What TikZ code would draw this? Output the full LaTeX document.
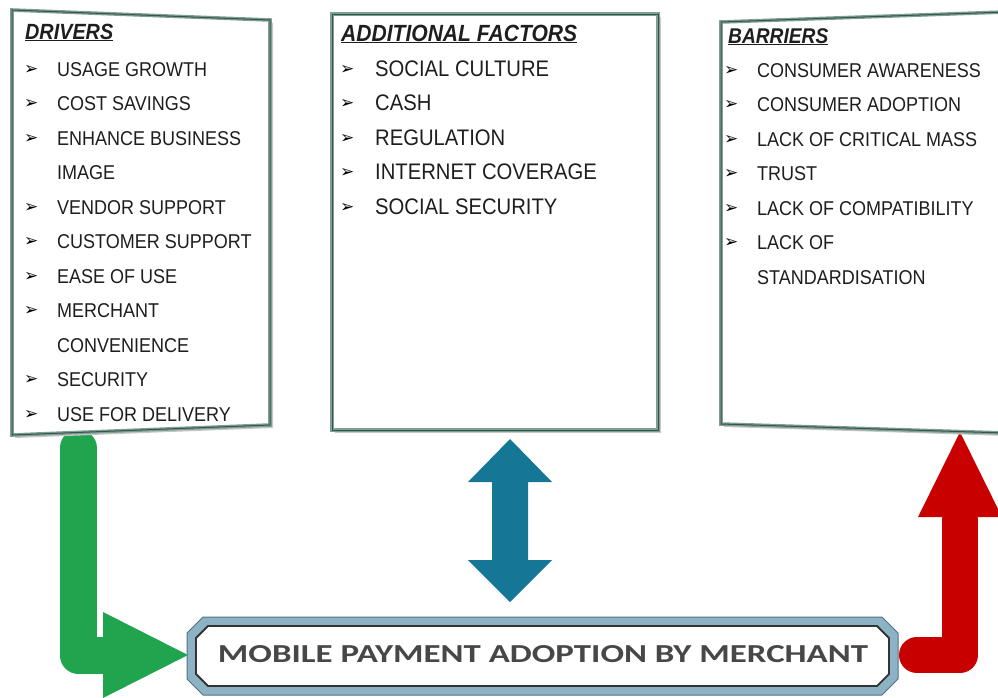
\documentclass[tikz,border=0pt]{standalone}
\usepackage{fontspec}
\setmainfont{Liberation Sans}
\newfontfamily\arialc[FakeStretch=0.9]{Liberation Sans}
\newfontfamily\dejavu{DejaVu Sans}
\newfontfamily\carl{Carlito}
\definecolor{frameC}{RGB}{125,160,150}
\definecolor{frameD}{RGB}{60,82,76}
\definecolor{bevelC}{RGB}{140,178,195}
\definecolor{bevelD}{RGB}{80,115,130}
\definecolor{greenA}{RGB}{32,164,78}
\definecolor{redA}{RGB}{200,0,0}
\definecolor{blueA}{RGB}{22,118,150}
\definecolor{txt}{RGB}{30,30,30}
\begin{document}
\begin{tikzpicture}[x=1pt,y=-1pt,
  boxfill/.style={fill=white},
  boxline/.style={draw=frameC, line width=3.6pt, line join=miter},
  boxcore/.style={draw=frameD, line width=1pt, line join=miter},
  boxshadow/.style={fill=black!22},
  bul/.style={anchor=base west, inner sep=0pt, font=\dejavu\fontsize{17}{18}\selectfont, text=black},
  itmL/.style={anchor=base west, inner sep=0pt, font=\arialc\fontsize{20}{24}\selectfont, text=txt},
  itmM/.style={anchor=base west, inner sep=0pt, font=\arialc\fontsize{22.5}{26}\selectfont, text=txt},
  itmR/.style={anchor=base west, inner sep=0pt, font=\arialc\fontsize{20}{24}\selectfont, text=txt},
  ttl/.style={anchor=base west, inner sep=0pt, font=\arialc\bfseries\itshape\fontsize{22}{26}\selectfont, text=txt}
]
\useasboundingbox (0,0) rectangle (998,697);
\clip (0,0) rectangle (998,697);

% ---------- arrows ----------
\coordinate (gTop) at (78,448);
\coordinate (gBend) at (78,655);
\coordinate (gEnd) at (106,655);
\draw[line width=37pt, draw=greenA, line cap=round, line join=round] (gTop) -- (gBend) -- (gEnd);
\fill[greenA] (103,612) -- (188,655) -- (103,698) -- cycle;

\coordinate (rStart) at (917,655);
\coordinate (rBend) at (960,655);
\coordinate (rTop) at (960,520);
\draw[line width=36pt, draw=redA, line cap=round, line join=round] (rStart) -- (rBend) -- (rTop);
\fill[redA] (918,517) -- (960,432) -- (1002,517) -- cycle;

\fill[blueA] (510,439) -- (552,482) -- (528,482) -- (528,560) -- (552,560) -- (510,602)
  -- (468,560) -- (492,560) -- (492,482) -- (468,482) -- cycle;

% ---------- left box (drivers) ----------
\fill[boxshadow] (15,13) -- (273,23) -- (273,428) -- (15,438) -- cycle;
\fill[boxfill] (12,10) -- (270,20) -- (270,425) -- (12,435) -- cycle;
\draw[boxline] (12,10) -- (270,20) -- (270,425) -- (12,435) -- cycle;
\draw[boxcore] (12,10) -- (270,20) -- (270,425) -- (12,435) -- cycle;

% ---------- middle box ----------
\fill[boxshadow] (335,17) rectangle (661,433);
\fill[boxfill] (332,14) rectangle (658,430);
\draw[boxline] (332,14) rectangle (658,430);
\draw[boxcore] (332,14) rectangle (658,430);

% ---------- right box ----------
\fill[boxshadow] (724,25) -- (1008,15) -- (1008,436) -- (724,427) -- cycle;
\fill[boxfill] (721,22) -- (1005,12) -- (1005,433) -- (721,424) -- cycle;
\draw[boxline] (721,22) -- (1005,12) -- (1005,433) -- (721,424) -- cycle;
\draw[boxcore] (721,22) -- (1005,12) -- (1005,433) -- (721,424) -- cycle;

% ---------- bottom box ----------
\filldraw[fill=bevelC, draw=bevelD, line width=1pt]
  (187,633) -- (203,617) -- (882,617) -- (898,633) -- (898,679) -- (882,695) -- (203,695) -- (187,679) -- cycle;
\filldraw[fill=white, draw=black!80, line width=1.8pt]
  (196,638) -- (208,626) -- (877,626) -- (889,638) -- (889,674) -- (877,686) -- (208,686) -- (196,674) -- cycle;
\node[anchor=base, inner sep=0pt, text=black!72] (goal) at (543,662)
  {\resizebox{650pt}{17pt}{\carl\bfseries MOBILE PAYMENT ADOPTION BY MERCHANT}};

% ---------- texts: drivers ----------
\node[ttl] (dT) at (25,39) {\underline{DRIVERS}};
\foreach \y/\t [count=\i] in {76/USAGE GROWTH, 110.5/COST SAVINGS, 145/ENHANCE BUSINESS,
  214/VENDOR SUPPORT, 248.5/CUSTOMER SUPPORT, 283/EASE OF USE, 317.5/MERCHANT,
  386.5/SECURITY, 421/USE FOR DELIVERY}{
  \node[bul] (dB\i) at (24,\y-2) {➢};
  \node[itmL] (dI\i) at (57,\y) {\t};
}
\node[itmL] (dC1) at (57,179.5) {IMAGE};
\node[itmL] (dC2) at (57,352) {CONVENIENCE};

% ---------- texts: additional factors ----------
\node[ttl, font=\arialc\bfseries\itshape\fontsize{23.4}{27}\selectfont] (mT) at (341,41) {\underline{ADDITIONAL FACTORS}};
\foreach \y/\t [count=\i] in {76/SOCIAL CULTURE, 110.5/CASH, 145/REGULATION,
  179.5/INTERNET COVERAGE, 214/SOCIAL SECURITY}{
  \node[bul] (mB\i) at (340,\y-2) {➢};
  \node[itmM] (mI\i) at (375,\y) {\t};
}

% ---------- texts: barriers ----------
\node[ttl, font=\arialc\bfseries\itshape\fontsize{21.3}{25}\selectfont] (bT) at (728,43) {\underline{BARRIERS}};
\foreach \y/\t [count=\i] in {77/CONSUMER AWARENESS, 111/CONSUMER ADOPTION, 146/LACK OF CRITICAL MASS,
  180/TRUST, 215/LACK OF COMPATIBILITY, 249.5/LACK OF}{
  \node[bul] (bB\i) at (724,\y-2) {➢};
  \node[itmR] (bI\i) at (757,\y) {\t};
}
\node[itmR] (bC1) at (757,284) {STANDARDISATION};
\end{tikzpicture}
\end{document}
